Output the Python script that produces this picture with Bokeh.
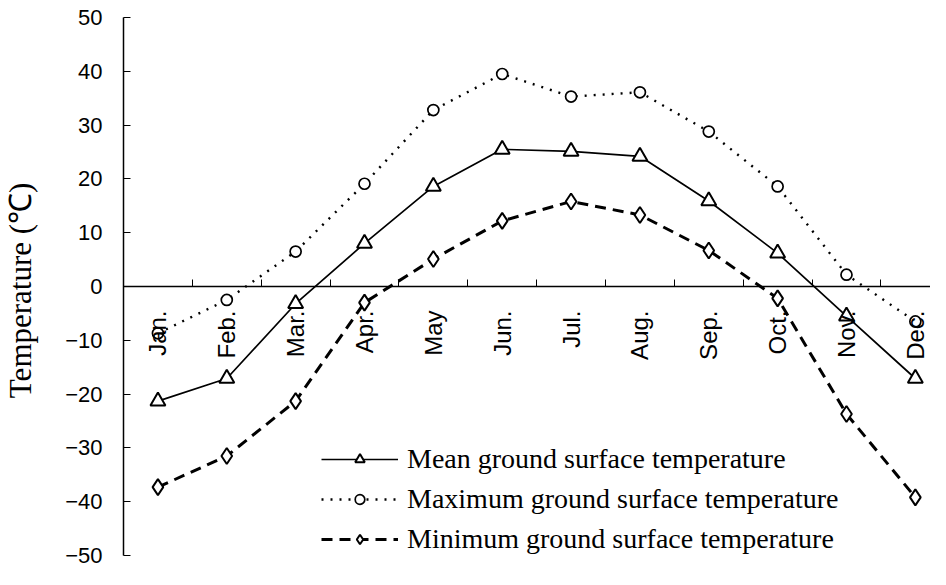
import math
from bokeh.plotting import figure
from bokeh.models import (LinearAxis, FixedTicker, Range1d, Legend, LegendItem,
                          ColumnDataSource)
from bokeh.embed import file_html
from bokeh.resources import INLINE

# ---- data ----
months = ["Jan.", "Feb.", "Mar.", "Apr.", "May", "Jun.", "Jul.", "Aug.",
          "Sep.", "Oct.", "Nov.", "Dec."]
month_pos = [1, 2, 3, 4, 5, 6, 7, 8, 9, 10, 11, 12]
mean_temp = [-21.3, -17.1, -3.2, 8.0, 18.6, 25.5, 25.1, 24.2, 15.9, 6.2, -5.5, -17.1]
max_temp = [-8.7, -2.5, 6.5, 19.1, 32.8, 39.5, 35.3, 36.1, 28.8, 18.6, 2.2, -6.5]
min_temp = [-37.3, -31.5, -21.3, -3.0, 5.1, 12.2, 15.8, 13.3, 6.7, -2.2, -23.7, -39.2]
y_ticks = [-50, -40, -30, -20, -10, 0, 10, 20, 30, 40, 50]
boundaries = [1.5, 2.5, 3.5, 4.5, 5.5, 6.5, 7.5, 8.5, 9.5, 10.5, 11.5]
legend_labels = ["Mean ground surface temperature",
                 "Maximum ground surface temperature",
                 "Minimum ground surface temperature"]

src = ColumnDataSource(dict(x=month_pos, mean=mean_temp, mx=max_temp, mn=min_temp))

p = figure(width=930, height=569, output_backend="svg", toolbar_location=None,
           x_range=Range1d(0.5, 12.22), y_range=Range1d(-50, 50),
           x_axis_location=None, y_axis_location=None,
           min_border_left=116, min_border_right=0, min_border_top=17,
           min_border_bottom=14)
p.outline_line_color = None
p.xgrid.visible = False
p.ygrid.visible = False
p.background_fill_color = "white"
p.border_fill_color = "white"

# y axis
yaxis = LinearAxis(ticker=FixedTicker(ticks=y_ticks))
yaxis.axis_label = "Temperature  (\u2103)"
yaxis.axis_label_text_font = "Liberation Serif"
yaxis.axis_label_text_font_size = "31px"
yaxis.axis_label_text_font_style = "normal"
yaxis.axis_label_text_color = "black"
yaxis.axis_label_standoff = 24
yaxis.major_label_text_font = "Liberation Sans"
yaxis.major_label_text_font_size = "22px"
yaxis.major_label_text_color = "black"
yaxis.major_label_standoff = 21
yaxis.major_tick_in = 7
yaxis.major_tick_out = 0
yaxis.minor_tick_line_color = None
yaxis.axis_line_color = "black"
yaxis.axis_line_width = 1.5
yaxis.major_tick_line_color = "black"
p.add_layout(yaxis, "left")

# x axis at y = 0
xaxis = LinearAxis(ticker=FixedTicker(ticks=month_pos, minor_ticks=boundaries),
                   fixed_location=0)
xaxis.major_label_overrides = {m: lbl for m, lbl in zip(month_pos, months)}
xaxis.major_label_orientation = math.pi / 2
xaxis.major_label_text_font = "Liberation Sans"
xaxis.major_label_text_font_size = "24px"
xaxis.major_label_text_color = "black"
xaxis.major_label_standoff = 24
xaxis.major_tick_in = 0
xaxis.major_tick_out = 0
xaxis.minor_tick_in = 7
xaxis.minor_tick_out = 0
xaxis.minor_tick_line_color = "black"
xaxis.minor_tick_line_width = 1
xaxis.axis_line_color = "black"
xaxis.axis_line_width = 1.5
p.add_layout(xaxis, "below")

# series
l_max = p.line("x", "mx", source=src, line_color="black", line_width=2.4,
               line_dash="2 7")
l_min = p.line("x", "mn", source=src, line_color="black", line_width=3,
               line_dash="11 7")
l_mean = p.line("x", "mean", source=src, line_color="black", line_width=1.7)

s_mean = p.scatter("x", "mean", source=src, marker="triangle", size=15,
                   fill_color="white", line_color="black", line_width=2)
s_max = p.scatter("x", "mx", source=src, marker="circle", size=11,
                  fill_color="white", line_color="black", line_width=1.7)
s_min = p.scatter("x", "mn", source=src, marker="diamond", size=16,
                  fill_color="white", line_color="black", line_width=2)

legend = Legend(items=[
    LegendItem(label=legend_labels[0], renderers=[l_mean, s_mean]),
    LegendItem(label=legend_labels[1], renderers=[l_max, s_max]),
    LegendItem(label=legend_labels[2], renderers=[l_min, s_min]),
], location=(198, 0))
legend.padding = 0
legend.margin = 0
legend.spacing = 8
legend.glyph_width = 77
legend.glyph_height = 24
legend.label_height = 24
legend.label_standoff = 9
legend.label_text_font = "Liberation Serif"
legend.label_text_font_size = "28px"
legend.label_text_color = "black"
legend.border_line_color = None
legend.background_fill_alpha = 0
p.add_layout(legend)

open("out.html", "w").write(file_html(p, INLINE))
